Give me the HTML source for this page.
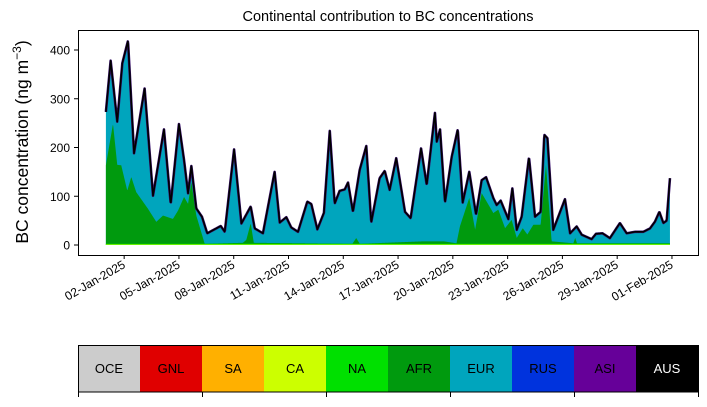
<!DOCTYPE html>
<html><head><meta charset="utf-8"><style>
body{margin:0;background:#fff;font-family:"Liberation Sans",sans-serif}
svg text{font-family:"Liberation Sans",sans-serif}
</style></head><body>
<svg id="s" width="707" height="402" viewBox="0 0 707 402">
<text x="388" y="21" text-anchor="middle" font-size="14.5">Continental contribution to BC concentrations</text>
<text transform="translate(28,142) rotate(-90)" text-anchor="middle" font-size="17.5">BC concentration (ng m<tspan baseline-shift="super" font-size="12">−3</tspan>)</text>
<g id="plot"></g>
<rect x="78.5" y="30.5" width="620" height="225" fill="none" stroke="#000" stroke-width="1"/>
<g id="axes"></g>
<g id="cbar"></g>
</svg>
<script>
const totalDays=[0,0.26,0.62,0.9,1.21,1.54,2.12,2.58,3.18,3.55,4.0,4.28,4.5,4.68,4.95,5.26,5.55,6.29,6.51,7.02,7.42,7.93,8.15,8.6,9.24,9.52,9.88,10.15,10.52,11.03,11.25,11.58,11.94,12.26,12.53,12.8,13.08,13.26,13.53,13.9,14.26,14.53,14.99,15.27,15.54,15.9,16.38,16.69,17.26,17.57,18.02,18.12,18.3,18.57,18.94,19.27,19.54,19.9,20.27,20.58,20.82,21.22,21.4,21.62,22.04,22.26,22.5,22.77,23.17,23.5,23.81,24.01,24.18,24.5,25.14,25.42,25.78,26.06,26.6,26.84,27.2,27.6,28.15,28.52,28.97,29.43,29.8,30.07,30.31,30.53,30.71,30.89];
const totalVals=[273,378,253,373,419,188,321,101,237,84,248,174,106,162,75,58,24,39,27,196,44,79,34,24,150,46,57,36,27,89,84,32,66,234,85,111,114,128,68,154,203,46,137,152,113,178,68,55,198,123,271,212,237,87,181,237,87,150,62,133,139,96,82,91,53,116,31,58,180,58,68,226,219,31,94,24,38,21,12,23,24,14,45,24,27,27,34,48,68,45,50,137];
const afrDays=[0,0.39,0.62,0.84,1.17,1.39,1.66,2.3,2.76,3.13,3.67,3.95,4.28,4.5,4.68,4.95,5.41,7.5,7.69,7.93,8.1,13.5,13.71,13.9,17.4,18.5,19.2,19.39,19.9,20.22,20.58,21.22,21.49,21.86,22.22,22.5,22.83,23.08,23.41,23.81,24.1,24.41,25.6,25.7,25.8,30.89];
const afrVals=[161,246,162,161,109,137,106,72,45,58,51,68,96,82,126,58,0,2,8,42,2,0,12,0,5,5,1,36,94,29,104,63,70,32,49,12,32,19,39,39,162,5,1,12,1,1];
const naVal=1.5, caVal=1;
const yTicks=[0,100,200,300,400];
const xTickDays=[1,4,7,10,13,16,19,22,25,28,31];
const xTickLabels=["02-Jan-2025","05-Jan-2025","08-Jan-2025","11-Jan-2025","14-Jan-2025","17-Jan-2025","20-Jan-2025","23-Jan-2025","26-Jan-2025","29-Jan-2025","01-Feb-2025"];
const regions=["OCE","GNL","SA","CA","NA","AFR","EUR","RUS","ASI","AUS"];
const regionColors=["#cccccc","#e00000","#ffb000","#ccff00","#00e000","#009a0e","#00a5bd","#0033dd","#660099","#000000"];

const NS="http://www.w3.org/2000/svg";
const X=d=>105.9+d*18.26, Y=v=>245-v*0.4875;
function mk(t,a,p){const e=document.createElementNS(NS,t);for(const k in a)e.setAttribute(k,a[k]);p.appendChild(e);return e;}
function interp(ds,vs,d){if(d<=ds[0])return vs[0];for(let i=1;i<ds.length;i++){if(d<=ds[i]){const f=(d-ds[i-1])/(ds[i]-ds[i-1]);return vs[i-1]+f*(vs[i]-vs[i-1]);}}return vs[vs.length-1];}
const plot=document.getElementById('plot'),axes=document.getElementById('axes'),cb=document.getElementById('cbar');
const end=totalDays[totalDays.length-1];
const grid=[];for(let d=0;d<=end+1e-9;d+=0.02)grid.push(d);grid.push(end);
const tot=grid.map(d=>interp(totalDays,totalVals,d));
const afr=grid.map((d,i)=>Math.min(tot[i],naVal+caVal+interp(afrDays,afrVals,d)));
function area(top,bot,color,name){
 let p=grid.map((d,i)=>X(d).toFixed(2)+","+Y(top[i]).toFixed(2));
 for(let i=grid.length-1;i>=0;i--)p.push(X(grid[i]).toFixed(2)+","+Y(bot[i]).toFixed(2));
 const e=mk('polygon',{points:p.join(' '),fill:color},plot);
 
 
}
const zero=grid.map(()=>0);
area(tot,zero,"#00a5bd","eur-area");
area(afr,zero,"#009a0e","afr-area");
area(grid.map((d,i)=>Math.min(tot[i],naVal+caVal)),zero,"#00e000","na-area");
area(grid.map((d,i)=>Math.min(tot[i],caVal)),zero,"#ccff00","ca-area");
const lp=grid.map((d,i)=>X(d).toFixed(2)+","+Y(tot[i]).toFixed(2)).join(' ');
const ul=mk('polyline',{points:lp,fill:"none",stroke:"#3a1070","stroke-width":2.6,"stroke-linejoin":"round"},plot);


const tl=mk('polyline',{points:lp,fill:"none",stroke:"#000","stroke-width":1.6,"stroke-linejoin":"round"},plot);


yTicks.forEach(v=>{
 mk('line',{x1:74,x2:78,y1:Y(v),y2:Y(v),stroke:"#000"},axes);
 const t=mk('text',{x:70,y:Y(v)+4.5,"text-anchor":"end","font-size":"12"},axes);t.textContent=v;
 
 
});
xTickDays.forEach((d,i)=>{
 const x=X(d);
 mk('line',{x1:x,x2:x,y1:255,y2:259,stroke:"#000"},axes);
 const t=mk('text',{transform:`translate(${x+2},${267}) rotate(-30)`,"text-anchor":"end","font-size":"12"},axes);t.textContent=xTickLabels[i];
 
 
});
const w=62;
regions.forEach((r,i)=>{
 const x=78+i*w;
 const rc=mk('rect',{x:x,y:345,width:w,height:47,fill:regionColors[i]},cb);
 
 
 const t=mk('text',{x:x+w/2,y:373,"text-anchor":"middle","font-size":"13",fill:r==="AUS"?"#fff":"#000"},cb);t.textContent=r;
 
 
});
mk('rect',{x:78.5,y:345.5,width:620,height:46.5,fill:"none",stroke:"#000"},cb);
for(let i=0;i<=10;i+=2){mk('line',{x1:78.5+i*w,x2:78.5+i*w,y1:392,y2:397,stroke:"#000"},cb);}
</script>
</body></html>
